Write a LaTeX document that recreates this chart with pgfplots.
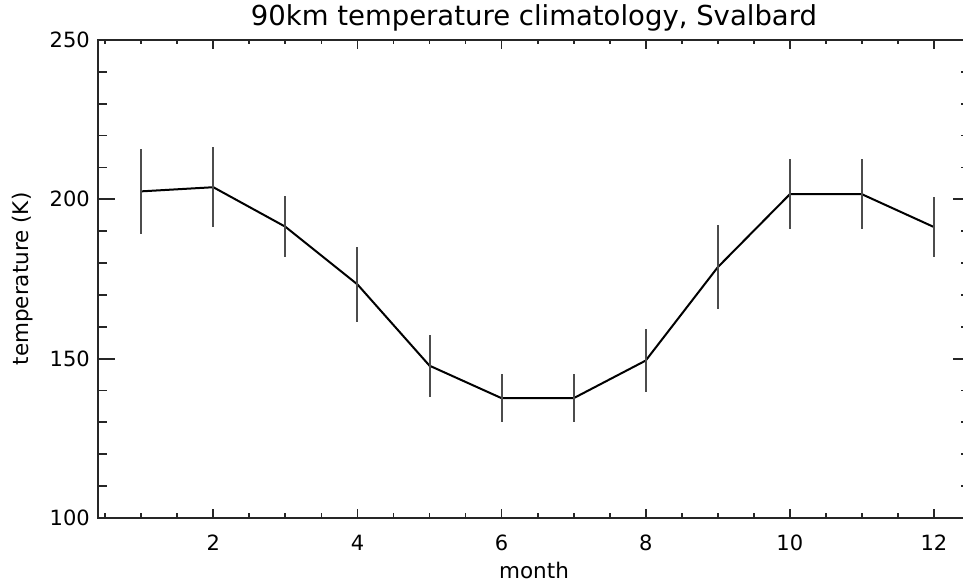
\documentclass[border=0pt]{standalone}
\usepackage{fontspec}
\setmainfont{DejaVu Sans}
\usepackage{pgfplots}
\pgfplotsset{compat=1.18}
\begin{document}
\begin{tikzpicture}
\begin{axis}[
  scale only axis, width=872pt, height=478pt,
  xmin=0.4, xmax=12.5, ymin=100, ymax=250,
  xtick={2,4,6,8,10,12}, minor xtick={0.5,1,...,12.5},
  ytick={100,150,200,250}, minor ytick={110,120,...,240},
  /pgf/number format/assume math mode=true,
  /pgf/number format/1000 sep={},
  axis line style={line width=2.2pt, black!85},
  xtick style={line width=1.8pt, black!85, /pgfplots/major tick length=9pt, /pgfplots/minor tick length=4.5pt},
  ytick style={line width=1.8pt, black!85, /pgfplots/major tick length=17.5pt, /pgfplots/minor tick length=9pt},
  tick label style={font=\fontsize{21pt}{25pt}\selectfont},
  xticklabel style={anchor=base, inner sep=0pt, yshift=-33pt},
  yticklabel style={anchor=east, inner sep=0pt, xshift=-8pt},
  xlabel={month}, ylabel={temperature (K)},
  label style={font=\fontsize{21.5pt}{25pt}\selectfont},
  xlabel style={at={(axis description cs:0.5,0)}, anchor=base, yshift=-60pt},
  ylabel style={at={(axis description cs:-0.087,0.5)}, anchor=center},
  title={90km temperature climatology, Svalbard},
  title style={font=\fontsize{27.5pt}{32pt}\selectfont, at={(axis description cs:0.5,1)}, anchor=base, yshift=8pt},
]
\addplot[black, line width=2pt, mark=none,
  error bars/.cd, y dir=both, y explicit, error mark=none,
  error bar style={line width=2pt, black!70}]
  table[x=m, y=t, y error=e] {
  m t e
  1 202.5 13.4
  2 203.8 12.6
  3 191.4 9.5
  4 173.3 11.8
  5 147.8 9.7
  6 137.6 7.5
  7 137.6 7.5
  8 149.4 9.8
  9 178.7 13.2
  10 201.6 11.0
  11 201.6 11.0
  12 191.3 9.3
};
\end{axis}
\pgfresetboundingbox
\path ([shift={(-98pt,-65pt)}]current axis.south west) rectangle ([shift={(865pt,40pt)}]current axis.north west);
\end{tikzpicture}
\end{document}
